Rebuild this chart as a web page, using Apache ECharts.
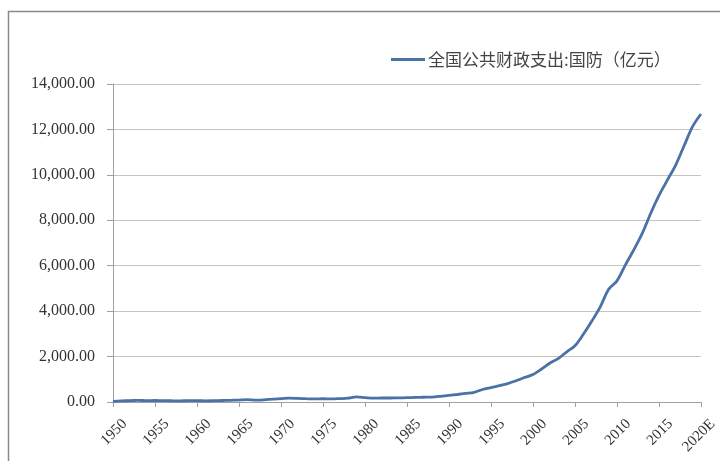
<!DOCTYPE html>
<html>
<head>
<meta charset="utf-8">
<script src="https://cdn.jsdelivr.net/npm/echarts@6/dist/echarts.min.js"></script>
<style>
html,body{margin:0;padding:0;background:#fff;}
#c{width:720px;height:461px;}
</style>
</head>
<body>
<div id="c"></div>
<script>
var years = ['1950','1951','1952','1953','1954','1955','1956','1957','1958','1959',
'1960','1961','1962','1963','1964','1965','1966','1967','1968','1969',
'1970','1971','1972','1973','1974','1975','1976','1977','1978','1979',
'1980','1981','1982','1983','1984','1985','1986','1987','1988','1989',
'1990','1991','1992','1993','1994','1995','1996','1997','1998','1999',
'2000','2001','2002','2003','2004','2005','2006','2007','2008','2009',
'2010','2011','2012','2013','2014','2015','2016','2017','2018','2019','2020E'];
var defense = [28.01,52.64,57.84,75.38,58.13,65.00,61.17,55.11,50.00,58.00,
58.00,50.00,57.00,66.42,72.86,86.76,101.01,83.00,94.09,126.18,
145.26,169.47,159.39,145.39,133.39,142.46,134.45,149.04,167.84,222.64,
193.84,167.97,176.35,177.13,180.76,191.53,200.75,209.62,218.00,251.47,
290.31,330.31,377.86,425.80,550.71,636.72,720.06,812.57,934.70,1076.40,
1207.54,1442.04,1707.78,1907.87,2200.01,2474.96,2979.38,3554.91,4178.76,4951.10,
5333.37,6027.91,6691.92,7410.62,8289.54,9087.84,9765.84,10432.37,11280.46,12122.10,12680.05];
var seriesName = '全国公共财政支出:国防（亿元）';
var yTicks = [0,2000,4000,6000,8000,10000,12000,14000];

var chart = echarts.init(document.getElementById('c'));
var serif = '"Liberation Serif","Noto Sans CJK SC",serif';
chart.setOption({
  animation:false,
  backgroundColor:'#fff',
  graphic:[{type:'rect',shape:{x:8.5,y:11.5,width:740,height:480},style:{fill:'none',stroke:'#8a8a8a',lineWidth:1.5},silent:true}],
  legend:{
    data:[seriesName],
    left:386, top:46,
    icon:'rect', itemWidth:34, itemHeight:3, itemGap:4,
    textStyle:{fontFamily:'"Noto Sans CJK SC",serif',fontSize:17,color:'#444',padding:[0,0,0,-2]}
  },
  grid:{left:113,right:18,top:84,bottom:59,containLabel:false},
  xAxis:{
    type:'category', data:years, boundaryGap:false,
    axisLine:{lineStyle:{color:'#a0a0a0',width:1}},
    axisTick:{interval:4,length:5,lineStyle:{color:'#a0a0a0'}},
    axisLabel:{interval:4,rotate:45,margin:8,verticalAlign:'top',padding:[9,0,0,0],
      fontFamily:serif,fontSize:15,color:'#333'}
  },
  yAxis:{
    type:'value', min:yTicks[0], max:yTicks[yTicks.length-1], interval:2000,
    axisLine:{show:true,lineStyle:{color:'#a0a0a0'}},
    axisTick:{show:true,length:6,lineStyle:{color:'#a0a0a0'}},
    splitLine:{lineStyle:{color:'#c4c4c4',width:1}},
    axisLabel:{margin:18,fontFamily:serif,fontSize:16,color:'#333',
      formatter:function(v){return v.toLocaleString('en-US',{minimumFractionDigits:2,maximumFractionDigits:2});}}
  },
  series:[{
    name:seriesName, type:'line', data:defense,
    symbol:'none', smooth:0.3,
    lineStyle:{color:'#4a72a6',width:2.8},
    itemStyle:{color:'#4a72a6'}
  }]
});
</script>
</body>
</html>
